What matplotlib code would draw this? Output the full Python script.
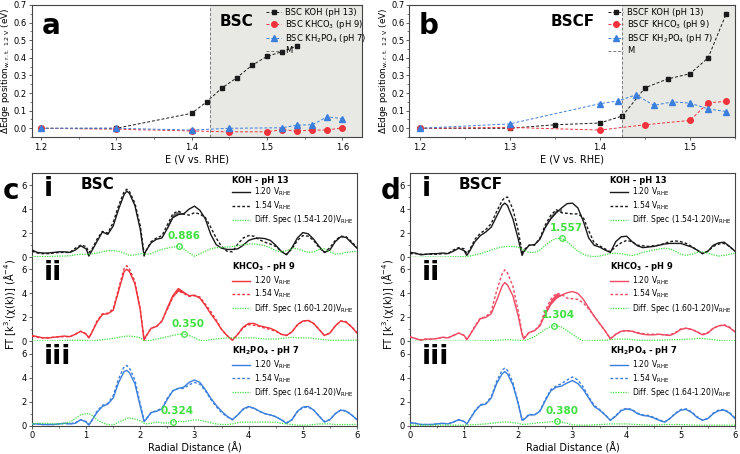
import numpy as np
import matplotlib.pyplot as plt

plt.rcParams['font.family'] = ['DejaVu Sans']
plt.rcParams['mathtext.default'] = 'regular'

# ---- panels a / b : edge shift vs potential ----
a_koh_e = [1.2, 1.3, 1.4, 1.42, 1.44, 1.46, 1.48, 1.50, 1.52, 1.54]
a_koh = [0.0, 0.0, 0.085, 0.15, 0.228, 0.287, 0.357, 0.408, 0.435, 0.467]
a_khco3_e = [1.2, 1.3, 1.4, 1.45, 1.5, 1.52, 1.54, 1.56, 1.58, 1.6]
a_khco3 = [0.0, -0.005, -0.015, -0.02, -0.02, -0.008, -0.015, -0.01, -0.01, 0.003]
a_kh2po4_e = [1.2, 1.3, 1.4, 1.45, 1.52, 1.54, 1.56, 1.58, 1.6]
a_kh2po4 = [0.0, 0.0, -0.01, 0.0, 0.003, 0.018, 0.02, 0.065, 0.055]

b_koh_e = [1.2, 1.3, 1.35, 1.4, 1.425, 1.45, 1.475, 1.5, 1.52, 1.54]
b_koh = [0.0, 0.0, 0.02, 0.03, 0.07, 0.23, 0.28, 0.31, 0.40, 0.65]
b_khco3_e = [1.2, 1.3, 1.4, 1.45, 1.5, 1.52, 1.54]
b_khco3 = [0.0, 0.005, -0.01, 0.02, 0.045, 0.145, 0.153]
b_kh2po4_e = [1.2, 1.3, 1.4, 1.42, 1.44, 1.46, 1.48, 1.5, 1.52, 1.54]
b_kh2po4 = [0.0, 0.025, 0.14, 0.155, 0.19, 0.13, 0.15, 0.143, 0.11, 0.095]

m_potential = 1.425

# ---- panels c / d : FT-EXAFS ----
r = [0.0, 0.1, 0.2, 0.3, 0.4, 0.5, 0.6, 0.7, 0.8, 0.9,
     1.0, 1.05, 1.1, 1.2, 1.3, 1.4, 1.5, 1.6, 1.7, 1.75, 1.8, 1.9,
     2.0, 2.07, 2.1, 2.2, 2.3, 2.4, 2.5, 2.6, 2.7, 2.8, 2.9,
     3.0, 3.1, 3.2, 3.3, 3.4, 3.5, 3.6, 3.7, 3.8, 3.9,
     4.0, 4.1, 4.2, 4.3, 4.4, 4.5, 4.6, 4.7, 4.8, 4.9,
     5.0, 5.1, 5.2, 5.3, 5.4, 5.5, 5.6, 5.7, 5.8, 5.9, 6.0]

# BSC
c_koh_120 = [0.6, 0.4, 0.35, 0.35, 0.4, 0.45, 0.45, 0.4, 0.6, 0.95,
             0.7, 0.1, 0.5, 1.3, 2.1, 1.9, 2.6, 4.0, 5.2, 5.5, 5.3, 4.3,
             2.3, 0.1, 0.5, 1.2, 1.5, 1.6, 2.4, 3.3, 3.55, 3.6, 4.0,
             4.25, 3.9, 3.2, 1.9, 1.05, 0.75, 0.65, 0.65, 0.7, 1.0,
             1.4, 1.55, 1.6, 1.55, 1.4, 1.0, 0.5, 0.2, 0.8, 1.6,
             2.05, 1.95, 1.5, 0.9, 0.4, 0.6, 1.3, 1.7, 1.65, 1.2, 0.75]
c_koh_154 = [0.5, 0.35, 0.3, 0.3, 0.35, 0.4, 0.4, 0.4, 0.75, 1.0,
             0.9, 0.4, 0.6, 1.5, 2.15, 2.0, 2.9, 4.3, 5.45, 5.65, 5.45, 4.5,
             2.6, 0.3, 0.5, 1.3, 1.6, 1.8, 2.7, 3.6, 3.85, 3.6, 3.5,
             3.7, 3.6, 3.3, 2.5, 1.6, 0.9, 0.5, 0.45, 1.1, 1.6,
             1.8, 1.75, 1.45, 1.25, 1.1, 0.9, 0.5, 0.25, 0.7, 1.4,
             1.8, 1.75, 1.4, 0.8, 0.4, 0.8, 1.4, 1.75, 1.7, 1.3, 0.8]
c_koh_diff = [0.05, 0.05, 0.05, 0.05, 0.08, 0.1, 0.1, 0.12, 0.2, 0.25,
              0.25, 0.2, 0.3, 0.35, 0.45, 0.55, 0.55, 0.5, 0.35, 0.25, 0.15, 0.2,
              0.3, 0.3, 0.25, 0.3, 0.5, 0.65, 0.75, 0.85, 0.89, 0.7, 0.35,
              0.08, 0.3, 0.5, 0.7, 0.8, 0.8, 0.85, 0.9, 0.95, 1.05,
              1.1, 1.1, 1.05, 0.95, 0.8, 0.55, 0.45, 0.55, 0.75, 0.7,
              0.55, 0.4, 0.45, 0.65, 0.7, 0.45, 0.25, 0.3, 0.4, 0.45, 0.5]
c_khco3_120 = [0.5, 0.4, 0.3, 0.3, 0.35, 0.4, 0.45, 0.4, 0.6, 0.85,
               0.6, 0.3, 0.7, 1.6, 2.25, 2.3, 2.6, 4.2, 5.8, 6.0, 5.8, 4.8,
               2.6, 0.1, 0.4, 1.1, 1.25, 1.7, 2.8, 3.8, 4.4, 4.1, 3.8,
               3.85, 3.6, 3.0, 2.3, 1.7, 1.0, 0.5, 0.1, 0.6, 1.2,
               1.5, 1.5, 1.3, 1.2, 1.1, 0.9, 0.6, 0.5, 0.8, 1.4,
               1.7, 1.75, 1.5, 1.0, 0.5, 0.7, 1.3, 1.7, 1.6, 1.2, 0.7]
c_khco3_154 = [0.45, 0.35, 0.3, 0.3, 0.35, 0.4, 0.4, 0.4, 0.6, 0.85,
               0.65, 0.3, 0.7, 1.7, 2.3, 2.35, 2.7, 4.4, 6.05, 6.3, 6.0, 5.0,
               2.7, 0.15, 0.4, 1.1, 1.25, 1.7, 2.7, 3.7, 4.2, 4.0, 3.75,
               3.8, 3.7, 3.1, 2.5, 1.8, 1.0, 0.5, 0.15, 0.6, 1.15,
               1.4, 1.35, 1.25, 1.1, 1.0, 0.85, 0.6, 0.5, 0.8, 1.35,
               1.7, 1.75, 1.5, 1.0, 0.5, 0.7, 1.3, 1.7, 1.65, 1.25, 0.75]
c_khco3_diff = [0.05, 0.05, 0.05, 0.05, 0.05, 0.05, 0.08, 0.1, 0.1, 0.1,
                0.1, 0.05, 0.05, 0.1, 0.15, 0.2, 0.25, 0.35, 0.42, 0.45, 0.45, 0.4,
                0.3, 0.05, 0.05, 0.1, 0.2, 0.3, 0.4, 0.5, 0.6, 0.62, 0.5,
                0.3, 0.1, 0.05, 0.15, 0.2, 0.25, 0.3, 0.3, 0.3, 0.3,
                0.3, 0.3, 0.25, 0.2, 0.2, 0.2, 0.25, 0.3, 0.35, 0.3,
                0.3, 0.3, 0.25, 0.2, 0.15, 0.1, 0.1, 0.1, 0.1, 0.1, 0.1]
c_kh2po4_120 = [0.15, 0.15, 0.1, 0.1, 0.1, 0.15, 0.2, 0.15, 0.2, 0.5,
                0.3, 0.05, 0.4, 1.1, 1.6, 1.8, 2.3, 3.6, 4.5, 4.6, 4.4, 3.5,
                1.6, 0.35, 0.5, 1.1, 1.2, 1.4, 2.2, 2.9, 3.1, 3.2, 3.6,
                3.8, 3.6, 3.0, 2.3, 1.7, 1.2, 0.8, 0.5, 0.9, 1.4,
                1.6, 1.45, 1.2, 1.0, 0.9, 0.75, 0.5, 0.2, 0.5, 1.2,
                1.55, 1.6, 1.3, 0.8, 0.3, 0.5, 1.0, 1.3, 1.2, 0.9, 0.5]
c_kh2po4_154 = [0.15, 0.15, 0.1, 0.1, 0.1, 0.15, 0.2, 0.15, 0.25, 0.5,
                0.35, 0.1, 0.4, 1.2, 1.7, 1.85, 2.5, 3.9, 4.9, 5.0, 4.8, 3.8,
                1.8, 0.4, 0.5, 1.1, 1.25, 1.45, 2.3, 2.9, 3.1, 3.1, 3.4,
                3.6, 3.45, 2.9, 2.2, 1.6, 1.1, 0.75, 0.5, 0.9, 1.35,
                1.55, 1.45, 1.2, 1.0, 0.9, 0.75, 0.5, 0.25, 0.5, 1.15,
                1.5, 1.55, 1.3, 0.8, 0.35, 0.5, 1.0, 1.3, 1.25, 0.9, 0.5]
c_kh2po4_diff = [0.15, 0.2, 0.2, 0.2, 0.15, 0.15, 0.2, 0.3, 0.6, 0.9,
                 1.0, 1.0, 0.9, 0.5, 0.25, 0.1, 0.05, 0.3, 0.5, 0.6, 0.65, 0.55,
                 0.4, 0.2, 0.15, 0.2, 0.3, 0.25, 0.2, 0.32, 0.35, 0.35, 0.4,
                 0.5, 0.45, 0.35, 0.25, 0.15, 0.1, 0.1, 0.15, 0.25, 0.3,
                 0.3, 0.3, 0.3, 0.3, 0.3, 0.3, 0.2, 0.15, 0.1, 0.05,
                 0.05, 0.05, 0.1, 0.15, 0.15, 0.15, 0.1, 0.1, 0.1, 0.1, 0.1]

# BSCF
d_koh_120 = [0.4, 0.35, 0.2, 0.25, 0.3, 0.3, 0.35, 0.3, 0.5, 0.75,
             0.55, 0.15, 0.5, 1.3, 1.8, 2.1, 2.5, 3.4, 4.3, 4.5, 4.3, 3.2,
             1.5, 0.15, 0.45, 1.0, 1.05, 1.5, 2.5, 3.2, 3.7, 4.1, 4.45,
             4.5, 4.1, 3.0, 1.6, 1.0, 0.85, 0.6, 0.4, 1.3, 1.7,
             1.75, 1.3, 0.95, 0.8, 0.85, 0.9, 1.0, 1.1, 1.15, 1.15,
             1.15, 1.0, 0.85, 0.6, 0.3, 0.5, 1.0, 1.2, 1.25, 0.9, 0.5]
d_koh_154 = [0.3, 0.3, 0.25, 0.25, 0.25, 0.25, 0.3, 0.3, 0.6, 0.8,
             0.7, 0.3, 0.6, 1.5, 2.0, 2.3, 2.8, 3.8, 4.7, 4.95, 5.0, 4.0,
             2.2, 0.4, 0.6, 1.0, 1.0, 1.6, 2.7, 3.5, 3.95, 3.7, 3.65,
             3.6, 3.6, 3.3, 2.2, 1.2, 0.95, 0.7, 0.45, 0.9, 1.2,
             1.4, 1.3, 1.0, 0.95, 0.9, 0.95, 1.0, 1.15, 1.3, 1.35,
             1.3, 1.15, 0.9, 0.6, 0.3, 0.5, 0.9, 1.1, 1.15, 0.9, 0.5]
d_koh_diff = [0.0, 0.0, 0.0, 0.02, 0.02, 0.02, 0.02, 0.03, 0.04, 0.05,
              0.05, 0.08, 0.1, 0.2, 0.3, 0.45, 0.6, 0.75, 0.85, 0.88, 0.9, 0.9,
              0.85, 0.65, 0.6, 0.4, 0.4, 0.6, 1.0, 1.35, 1.55, 1.56, 1.3,
              0.9, 0.5, 0.25, 0.1, 0.05, 0.1, 0.2, 0.3, 0.35, 0.3,
              0.2, 0.15, 0.25, 0.4, 0.5, 0.6, 0.7, 0.75, 0.7, 0.5,
              0.25, 0.15, 0.25, 0.4, 0.45, 0.35, 0.2, 0.1, 0.15, 0.25, 0.35]
d_khco3_120 = [0.4, 0.25, 0.1, 0.2, 0.2, 0.25, 0.35, 0.3, 0.5, 0.7,
               0.5, 0.15, 0.5, 1.2, 1.9, 2.0, 2.3, 3.4, 4.6, 4.9, 4.7, 3.8,
               2.1, 0.6, 0.2, 0.75, 0.9, 1.3, 2.3, 3.1, 3.6, 3.85, 4.05,
               4.15, 4.0, 3.5, 2.8, 2.1, 1.5, 0.9, 0.2, 0.6, 0.85,
               0.9, 0.85, 0.7, 0.6, 0.55, 0.55, 0.6, 0.55, 0.5, 0.7,
               1.0, 1.1, 1.0, 0.8, 0.55, 0.7, 1.1, 1.3, 1.35, 1.15, 0.8]
d_khco3_154 = [0.35, 0.25, 0.15, 0.2, 0.2, 0.25, 0.35, 0.3, 0.5, 0.7,
               0.5, 0.2, 0.5, 1.3, 1.95, 2.05, 2.5, 4.2, 5.6, 5.95, 5.7, 4.6,
               2.5, 0.7, 0.3, 0.75, 0.9, 1.4, 2.6, 3.5, 4.0, 3.9, 3.6,
               3.55, 3.5, 3.2, 2.7, 2.1, 1.5, 0.9, 0.25, 0.6, 0.85,
               0.9, 0.85, 0.75, 0.65, 0.6, 0.6, 0.6, 0.55, 0.55, 0.75,
               1.05, 1.1, 1.0, 0.8, 0.6, 0.75, 1.1, 1.3, 1.4, 1.2, 0.8]
d_khco3_diff = [0.02, 0.02, 0.02, 0.02, 0.02, 0.02, 0.03, 0.03, 0.03, 0.03,
                0.03, 0.03, 0.03, 0.05, 0.05, 0.05, 0.08, 0.1, 0.12, 0.15, 0.15, 0.12,
                0.1, 0.05, 0.05, 0.2, 0.4, 0.7, 1.0, 1.25, 1.3, 1.2, 0.9,
                0.6, 0.3, 0.05, 0.05, 0.08, 0.1, 0.1, 0.15, 0.2, 0.2,
                0.2, 0.15, 0.1, 0.1, 0.1, 0.1, 0.1, 0.12, 0.15, 0.15,
                0.15, 0.2, 0.2, 0.25, 0.25, 0.2, 0.15, 0.1, 0.05, 0.05, 0.05]
d_kh2po4_120 = [0.25, 0.2, 0.1, 0.1, 0.1, 0.15, 0.2, 0.15, 0.3, 0.5,
                0.35, 0.15, 0.5, 1.2, 1.7, 1.8, 2.3, 3.5, 4.3, 4.5, 4.3, 3.4,
                1.8, 0.45, 0.5, 0.9, 0.9, 1.2, 2.1, 2.9, 3.2, 3.3, 3.55,
                3.75, 3.5, 3.0, 2.3, 1.6, 1.3, 0.9, 0.45, 0.8, 1.25,
                1.4, 1.3, 1.0, 0.85, 0.8, 0.65, 0.45, 0.3, 0.6, 1.0,
                1.3, 1.35, 1.1, 0.7, 0.45, 0.6, 1.0, 1.25, 1.3, 1.05, 0.6]
d_kh2po4_154 = [0.25, 0.2, 0.1, 0.1, 0.1, 0.15, 0.2, 0.15, 0.3, 0.5,
                0.35, 0.15, 0.5, 1.25, 1.75, 1.85, 2.4, 3.7, 4.6, 4.8, 4.6, 3.6,
                1.9, 0.5, 0.55, 0.95, 0.9, 1.25, 2.2, 3.0, 3.3, 3.5, 3.8,
                4.05, 3.8, 3.2, 2.4, 1.7, 1.35, 0.95, 0.45, 0.85, 1.3,
                1.45, 1.35, 1.05, 0.9, 0.85, 0.7, 0.5, 0.3, 0.6, 1.05,
                1.35, 1.4, 1.15, 0.75, 0.45, 0.6, 1.05, 1.3, 1.35, 1.1, 0.65]
d_kh2po4_diff = [0.05, 0.05, 0.05, 0.05, 0.05, 0.05, 0.05, 0.05, 0.05, 0.05,
                 0.05, 0.05, 0.08, 0.1, 0.12, 0.15, 0.2, 0.25, 0.3, 0.32, 0.3, 0.25,
                 0.2, 0.1, 0.1, 0.15, 0.2, 0.25, 0.28, 0.32, 0.37, 0.3, 0.2,
                 0.08, 0.05, 0.05, 0.05, 0.08, 0.1, 0.12, 0.15, 0.15, 0.15,
                 0.15, 0.12, 0.1, 0.08, 0.06, 0.05, 0.08, 0.1, 0.1, 0.1,
                 0.1, 0.08, 0.06, 0.05, 0.05, 0.05, 0.05, 0.05, 0.05, 0.05, 0.05]

# marked points on difference spectra (x, y, label)
c_marks = [(2.72, 0.9, '0.886'), (2.8, 0.62, '0.350'), (2.6, 0.32, '0.324')]
d_marks = [(2.8, 1.56, '1.557'), (2.66, 1.3, '1.304'), (2.72, 0.37, '0.380')]

BLACK = '#1a1a1a'
RED = '#f0323a'
PINK = '#f04a64'
BLUE = '#3b7fdc'
GREEN = '#3ee03e'
SHADE = '#e8e8e4'

fig = plt.figure(figsize=(7.4, 4.54), dpi=100)


def style_axes(ax):
    for s in ax.spines.values():
        s.set_color('#444444')
        s.set_linewidth(0.8)
    ax.tick_params(labelsize=6, length=2.5, width=0.6, color='#444444', pad=1.5)
    ax.tick_params(which='minor', length=1.5, width=0.5, color='#444444')


def edge_panel(rect, xlim, data, prefix, letter, leg_x):
    ax = fig.add_axes(rect)
    ax.axvspan(m_potential, xlim[1], color=SHADE, zorder=0, lw=0)
    (e1, y1), (e2, y2), (e3, y3) = data
    ax.plot(e1, y1, ls=(0, (3, 2)), lw=0.7, color=BLACK, marker='s', ms=3.5,
            label=f'{prefix} KOH (pH 13)')
    ax.plot(e2, y2, ls=(0, (3, 2)), lw=0.7, color=RED, marker='o', ms=4,
            label=f'{prefix} KHCO$_3$ (pH 9)')
    ax.plot(e3, y3, ls=(0, (3, 2)), lw=0.7, color=BLUE, marker='^', ms=4,
            label=f'{prefix} KH$_2$PO$_4$ (pH 7)')
    ax.axvline(m_potential, color='#777777', ls=(0, (3, 2)), lw=0.7, label='M')
    ax.set_xlim(*xlim)
    ax.set_ylim(-0.05, 0.7)
    major = [t for t in [1.2, 1.3, 1.4, 1.5, 1.6] if t <= xlim[1]]
    ax.set_xticks(major)
    ax.set_xticks(np.arange(1.2, xlim[1], 0.05), minor=True)
    ax.set_yticks(np.arange(0, 0.71, 0.1))
    ax.set_yticks(np.arange(-0.05, 0.71, 0.05), minor=True)
    ax.set_yticklabels([f'{v:.1f}' for v in np.arange(0, 0.71, 0.1)])
    style_axes(ax)
    ax.tick_params(axis='y', pad=1)
    ax.set_xlabel('E (V vs. RHE)', fontsize=7, labelpad=2)
    ax.set_ylabel(r'$\Delta$Edge position$_{w.r.t.\ 1.2\ V}$ (eV)', fontsize=6.4,
                  labelpad=1)
    ax.legend(loc='upper left', bbox_to_anchor=(leg_x, 1.03), frameon=False,
              fontsize=6, handlelength=1.8, handletextpad=0.5,
              labelspacing=0.15, borderpad=0.3)
    ax.text(0.03, 0.95, letter, transform=ax.transAxes, fontsize=20,
            fontweight='bold', va='top', ha='left')
    ax.text(leg_x - 0.02, 0.93, prefix, transform=ax.transAxes, fontsize=11,
            fontweight='bold', va='top', ha='right')
    return ax


edge_panel([0.043, 0.698, 0.446, 0.291], (1.188, 1.626),
           [(a_koh_e, a_koh), (a_khco3_e, a_khco3), (a_kh2po4_e, a_kh2po4)],
           'BSC', 'a', 0.69)
edge_panel([0.553, 0.698, 0.4405, 0.291], (1.1886, 1.55),
           [(b_koh_e, b_koh), (b_khco3_e, b_khco3), (b_kh2po4_e, b_kh2po4)],
           'BSCF', 'b', 0.59)


def exafs_panel(left, sets, marks, colors, tag, letter):
    bottom, total_h, width = 0.0623, 0.5566, 0.4392
    h = total_h / 3
    titles = ['KOH - pH 13', 'KHCO$_3$ - pH 9', 'KH$_2$PO$_4$ - pH 7']
    diffs = ['(1.54-1.20)', '(1.60-1.20)', '(1.64-1.20)']
    romans = ['i', 'ii', 'iii']
    r_arr = np.array(r)
    for k in range(3):
        ax = fig.add_axes([left, bottom + (2 - k) * h, width, h])
        y120, y154, ydiff = sets[k]
        col = colors[k]
        ax.axhline(0, color='#888888', ls=(0, (2, 2)), lw=0.6, zorder=1)
        # shaded difference region around the second shell
        if k < 2:
            sel = (r_arr >= 2.5) & (r_arr <= 2.8)
            fill_col = '#707070' if k == 0 else col
            ax.fill_between(r_arr, y120, y154, where=sel, color=fill_col, lw=0, zorder=2)
        l1, = ax.plot(r, y120, color=col, lw=1.0, zorder=3)
        l2, = ax.plot(r, y154, color=col, lw=1.0, ls=(0, (2, 1.5)), zorder=3)
        l3, = ax.plot(r, ydiff, color=GREEN, lw=0.9, ls=(0, (1, 1)), zorder=3)
        mx, my, mtxt = marks[k]
        ax.plot(mx, my, marker='o', mfc='none', mec=GREEN, ms=4, mew=0.9, zorder=4)
        ax.text(mx + 0.08, my + 0.45, mtxt, color=GREEN, fontsize=7.5,
                fontweight='bold', ha='center', va='bottom')
        ax.set_xlim(0, 6)
        ax.set_ylim(0, 7)
        ax.set_yticks([0, 2, 4, 6])
        ax.set_yticks([1, 3, 5], minor=True)
        ax.set_xticks(range(7))
        ax.set_xticks(np.arange(0.5, 6, 1.0), minor=True)
        style_axes(ax)
        if k > 0:
            ax.spines['top'].set_visible(False)
        if k < 2:
            ax.spines['bottom'].set_visible(False)
            ax.tick_params(axis='x', which='both', bottom=False, labelbottom=False)
        else:
            ax.set_xlabel('Radial Distance (Å)', fontsize=7, labelpad=1)
        ax.legend([l1, l2, l3],
                  ['1.20 V$_{RHE}$', '1.54 V$_{RHE}$',
                   f'Diff. Spec {diffs[k]}V$_{{RHE}}$'],
                  title=titles[k], loc='upper left', bbox_to_anchor=(0.6, 1.03),
                  frameon=False, fontsize=5.5, handlelength=2.3,
                  handletextpad=0.5, labelspacing=0.15, borderpad=0.2,
                  alignment='left',
                  title_fontproperties={'weight': 'bold', 'size': 6})
        ax.text(0.035, 0.97, romans[k], transform=ax.transAxes, fontsize=19,
                fontweight='heavy', va='top', ha='left')
        if k == 0:
            ax.text(0.15, 0.95, tag, transform=ax.transAxes, fontsize=11,
                    fontweight='bold', va='top', ha='left')
    fig.text(left - 0.04, bottom + total_h - 0.04, letter, fontsize=20,
             fontweight='bold', va='center', ha='left')
    fig.text(left - 0.03, bottom + total_h / 2 - 0.01,
             r'FT [k$^3$$\cdot$($\chi$(k))] (Å$^{-4}$)', rotation=90,
             fontsize=7, va='center', ha='center')


exafs_panel(0.0432,
            [(c_koh_120, c_koh_154, c_koh_diff),
             (c_khco3_120, c_khco3_154, c_khco3_diff),
             (c_kh2po4_120, c_kh2po4_154, c_kh2po4_diff)],
            c_marks, [BLACK, RED, BLUE], 'BSC', 'c')
exafs_panel(0.554,
            [(d_koh_120, d_koh_154, d_koh_diff),
             (d_khco3_120, d_khco3_154, d_khco3_diff),
             (d_kh2po4_120, d_kh2po4_154, d_kh2po4_diff)],
            d_marks, [BLACK, PINK, BLUE], 'BSCF', 'd')

fig.savefig('out.png', dpi=100)
